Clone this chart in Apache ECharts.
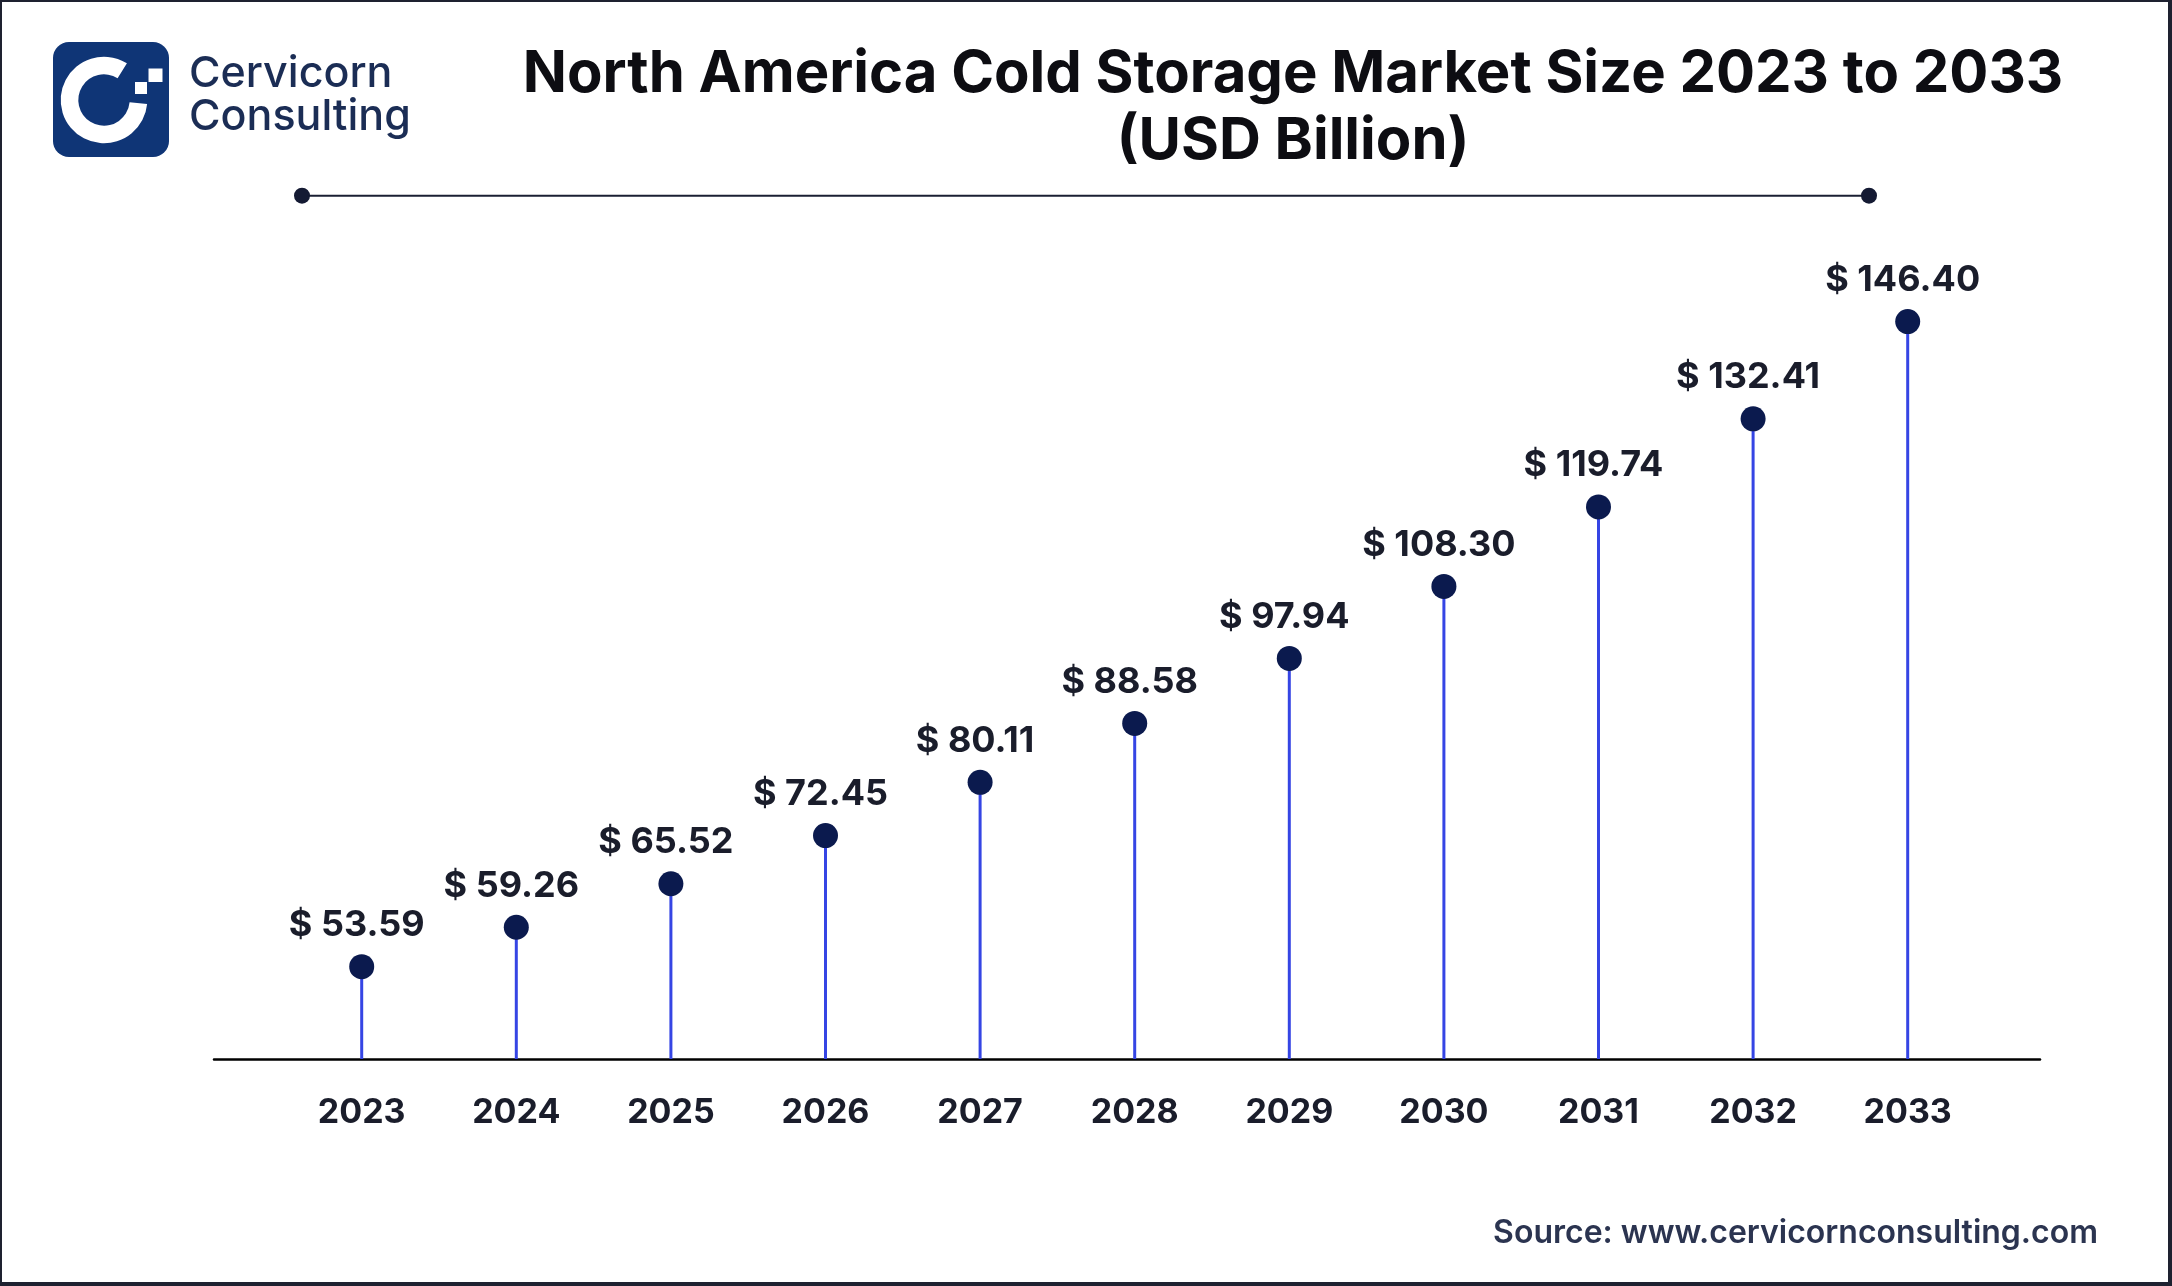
<!DOCTYPE html>
<html>
<head>
<meta charset="utf-8">
<script src="https://cdn.jsdelivr.net/npm/echarts@6/dist/echarts.min.js"></script>
<style>
html,body{margin:0;padding:0;background:#fff;}
#chart{width:2172px;height:1286px;}
</style>
</head>
<body>
<div id="chart"></div>
<script>
const categories = ['2023','2024','2025','2026','2027','2028','2029','2030','2031','2032','2033'];
const marketSize = [53.59, 59.26, 65.52, 72.45, 80.11, 88.58, 97.94, 108.30, 119.74, 132.41, 146.40];
const titleText = 'North America Cold Storage Market Size 2023 to 2033\n(USD Billion)';
const sourceText = 'Source: www.cervicornconsulting.com';

const FONT = 'Inter, "Noto Sans", sans-serif';
const chart = echarts.init(document.getElementById('chart'), null, {renderer: 'canvas'});

const option = {
  backgroundColor: '#ffffff',
  animation: false,
  title: {
    text: titleText,
    left: 1288, top: 36,
    textAlign: 'center',
    textStyle: {fontFamily: FONT, fontSize: 58, fontWeight: 700, color: '#0d0d12', lineHeight: 67}
  },
  grid: [
    {left: 284.4, right: 187, top: 296.6, bottom: 227},
    {left: 214, right: 132, top: 1000, bottom: 227}
  ],
  xAxis: [
    {
      type: 'category', gridIndex: 0, data: categories,
      axisLine: {show: false}, axisTick: {show: false},
      axisLabel: {fontFamily: FONT, fontSize: 34, fontWeight: 700, color: '#1a1d2b', margin: 37, lineHeight: 34}
    },
    {
      type: 'category', gridIndex: 1, data: categories,
      axisLine: {show: true, lineStyle: {color: '#000000', width: 2.5}},
      axisTick: {show: false}, axisLabel: {show: false}
    }
  ],
  yAxis: [
    {type: 'value', gridIndex: 0, min: 40.3, max: 150, show: false, splitLine: {show: false}},
    {type: 'value', gridIndex: 1, show: false, splitLine: {show: false}}
  ],
  series: [
    {
      type: 'bar', xAxisIndex: 0, yAxisIndex: 0, data: marketSize,
      barWidth: 3, clip: true,
      itemStyle: {color: '#3545e4'}
    },
    {
      type: 'scatter', xAxisIndex: 0, yAxisIndex: 0, data: marketSize,
      symbolSize: 25,
      itemStyle: {color: '#0b1a4e', opacity: 1},
      label: {
        show: true, position: 'top', distance: 10, offset: [-5, 0],
        formatter: p => '$ ' + p.value.toFixed(2),
        fontFamily: FONT, fontSize: 36, fontWeight: 700, color: '#1a1d2b', lineHeight: 38
      },
      z: 5
    }
  ],
  graphic: [
    {type: 'rect', shape: {x: 0, y: 0, width: 2170, height: 1284}, style: {fill: 'none', stroke: '#1e2130', lineWidth: 4}, silent: true},
    // logo
    {type: 'rect', shape: {x: 53, y: 42, width: 116, height: 115, r: 16}, style: {fill: '#0f3576'}},
    {type: 'sector', shape: {cx: 104, cy: 100, r0: 25.7, r: 43.3, startAngle: 0.09, endAngle: 5.27, clockwise: true}, style: {fill: '#ffffff'}},
    {type: 'rect', shape: {x: 135, y: 82, width: 12, height: 12}, style: {fill: '#ffffff'}},
    {type: 'rect', shape: {x: 148.5, y: 68.5, width: 14, height: 13.5}, style: {fill: '#ffffff'}},
    {type: 'text', x: 189, y: 74, style: {text: 'Cervicorn', fontFamily: FONT, fontSize: 43, fontWeight: 500, fill: '#1b2d55', textVerticalAlign: 'middle'}},
    {type: 'text', x: 189, y: 117, style: {text: 'Consulting', fontFamily: FONT, fontSize: 43, fontWeight: 500, fill: '#1b2d55', textVerticalAlign: 'middle'}},
    // decorative divider
    {type: 'line', shape: {x1: 302, y1: 195.7, x2: 1869, y2: 195.7}, style: {stroke: '#1a1f33', lineWidth: 2}},
    {type: 'circle', shape: {cx: 302, cy: 195.7, r: 8}, style: {fill: '#141a33'}},
    {type: 'circle', shape: {cx: 1869, cy: 195.7, r: 8}, style: {fill: '#141a33'}},
    // source
    {type: 'text', x: 2098, y: 1233, style: {text: sourceText, fontFamily: FONT, fontSize: 32, fontWeight: 600, fill: '#2b3450', textAlign: 'right', textVerticalAlign: 'middle'}}
  ]
};
chart.setOption(option);
</script>
</body>
</html>
